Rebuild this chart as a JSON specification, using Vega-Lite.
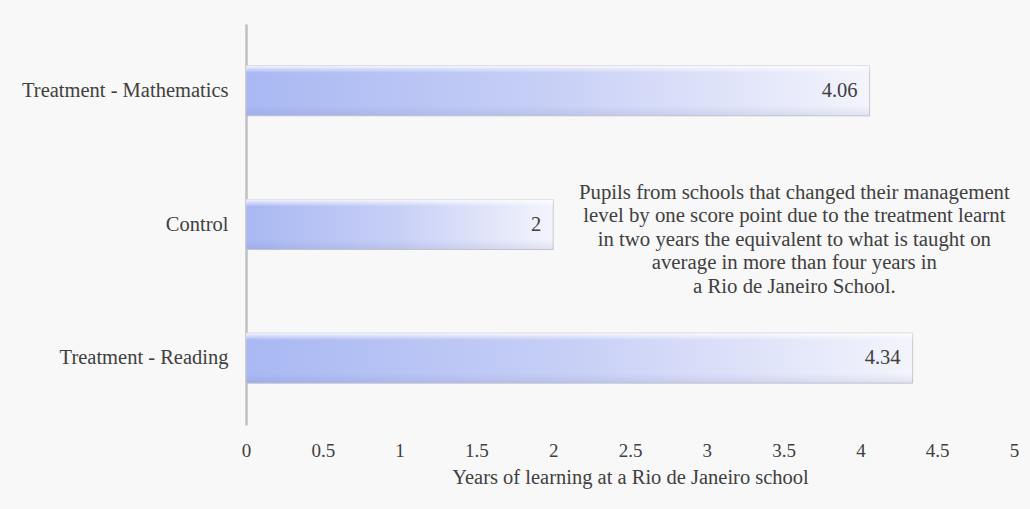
{
  "$schema": "https://vega.github.io/schema/vega-lite/v6.json",
  "width": 768,
  "height": 401,
  "autosize": {"type": "none"},
  "padding": {"left": 246, "top": 24, "right": 16, "bottom": 84},
  "background": "#f8f8f8",
  "config": {
    "font": "Liberation Serif, Times New Roman, serif",
    "view": {"stroke": null},
    "axis": {"labelFont": "Liberation Serif, Times New Roman, serif", "titleFont": "Liberation Serif, Times New Roman, serif"},
    "text": {"font": "Liberation Serif, Times New Roman, serif", "color": "#404040"}
  },
  "datasets": {
    "bars": [
      {"group": "Treatment - Mathematics", "years": 4.06},
      {"group": "Control", "years": 2},
      {"group": "Treatment - Reading", "years": 4.34}
    ],
    "note": [
      {
        "group": "Control",
        "x": 3.57,
        "text": [
          "Pupils from schools that changed their management",
          "level by one score point due to the treatment learnt",
          "in two years the equivalent to what is taught on",
          "average in more than four years in",
          "a Rio de Janeiro School."
        ]
      }
    ]
  },
  "encoding": {
    "y": {
      "field": "group",
      "type": "nominal",
      "sort": ["Treatment - Mathematics", "Control", "Treatment - Reading"],
      "scale": {"paddingInner": 0.627, "paddingOuter": 0.3135},
      "axis": {
        "title": null,
        "ticks": false,
        "domainColor": "#c0c0c0",
        "domainWidth": 2.5,
        "labelFontSize": 20.5,
        "labelColor": "#404040",
        "labelPadding": 18,
        "labelLimit": 240
      }
    }
  },
  "layer": [
    {
      "data": {"name": "bars"},
      "mark": {
        "type": "bar",
        "size": 50,
        "stroke": "#c9c9d2",
        "strokeWidth": 1,
        "color": {
          "gradient": "linear",
          "x1": 0, "y1": 0, "x2": 1, "y2": 0,
          "stops": [
            {"offset": 0, "color": "#a9b8f3"},
            {"offset": 0.5, "color": "#c8d0f6"},
            {"offset": 1, "color": "#f3f4fc"}
          ]
        }
      },
      "encoding": {
        "x": {
          "field": "years",
          "type": "quantitative",
          "scale": {"domain": [0, 5], "nice": false},
          "axis": {
            "title": "Years of learning at a Rio de Janeiro school",
            "titleFontSize": 20.5,
            "titleFontWeight": "normal",
            "titleColor": "#404040",
            "titlePadding": 7,
            "values": [0, 0.5, 1, 1.5, 2, 2.5, 3, 3.5, 4, 4.5, 5],
            "format": "~g",
            "labelFontSize": 19,
            "labelColor": "#404040",
            "labelPadding": 16,
            "labelFlush": false,
            "labelOverlap": false,
            "domain": false,
            "ticks": false,
            "grid": false
          }
        }
      }
    },
    {
      "data": {"name": "bars"},
      "mark": {
        "type": "bar",
        "size": 50,
        "color": {
          "gradient": "linear",
          "x1": 0, "y1": 0, "x2": 0, "y2": 1,
          "stops": [
            {"offset": 0, "color": "rgba(255,255,255,0.85)"},
            {"offset": 0.14, "color": "rgba(255,255,255,0.0)"},
            {"offset": 0.8, "color": "rgba(90,100,150,0.0)"},
            {"offset": 1, "color": "rgba(90,100,150,0.12)"}
          ]
        }
      },
      "encoding": {"x": {"field": "years", "type": "quantitative"}}
    },
    {
      "data": {"name": "bars"},
      "mark": {"type": "text", "align": "right", "baseline": "middle", "dx": -12, "fontSize": 20.5, "color": "#404040"},
      "encoding": {
        "x": {"field": "years", "type": "quantitative"},
        "text": {"field": "years", "type": "quantitative", "format": "~g"}
      }
    },
    {
      "data": {"name": "note"},
      "mark": {"type": "text", "align": "center", "baseline": "middle", "dy": -32, "fontSize": 20.8, "lineHeight": 23.5, "color": "#404040"},
      "encoding": {
        "x": {"field": "x", "type": "quantitative"},
        "text": {"field": "text"}
      }
    }
  ]
}
